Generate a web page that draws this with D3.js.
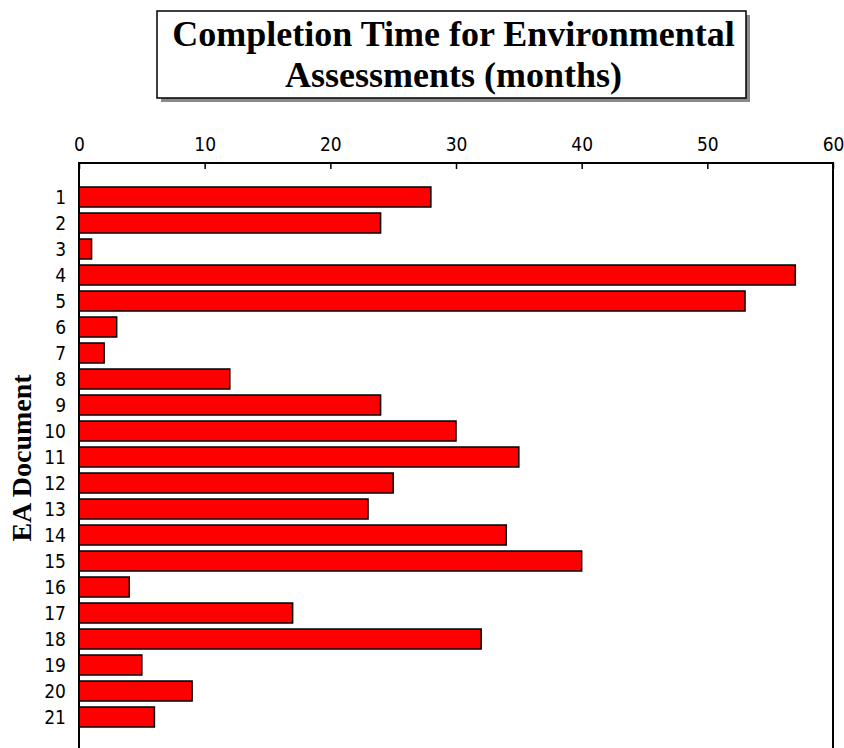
<!DOCTYPE html>
<html>
<head>
<meta charset="utf-8">
<script src="https://cdn.jsdelivr.net/npm/d3@7"></script>
<style>
  html, body { margin: 0; padding: 0; background: #fff; }
  svg { display: block; }
</style>
</head>
<body>
<svg id="chart" width="844" height="748"></svg>
<script>
// EA document numbers and completion times in months
const documents = ["1","2","3","4","5","6","7","8","9","10","11","12","13","14","15","16","17","18","19","20","21"];
const months = [28, 24, 1, 57, 53, 3, 2, 12, 24, 30, 35, 25, 23, 34, 40, 4, 17, 32, 5, 9, 6];
const xTicks = [0, 10, 20, 30, 40, 50, 60];
const titleLines = ["Completion Time for Environmental", "Assessments (months)"];
const yTitle = "EA Document";

const svg = d3.select("#chart");
const plot = { left: 79, right: 833, top: 163, bottom: 760 };
const tickFont = "'Liberation Sans Narrow', 'Arial Narrow', 'DejaVu Sans Condensed', sans-serif";

const x = d3.scaleLinear().domain([0, 60]).range([plot.left, plot.right]);
const y = d3.scaleBand()
  .domain(documents)
  .range([184, 730])
  .paddingInner(6 / 26)
  .paddingOuter(3 / 26);

// Title box with drop shadow
const box = { x: 157, y: 11, w: 589, h: 87 };
svg.append("rect")
  .attr("x", box.x + 4).attr("y", box.y + 4)
  .attr("width", box.w).attr("height", box.h)
  .attr("fill", "#8a8a8a");
svg.append("rect")
  .attr("x", box.x).attr("y", box.y)
  .attr("width", box.w).attr("height", box.h)
  .attr("fill", "#fff").attr("stroke", "#000").attr("stroke-width", 1.5);
svg.append("g").selectAll("text")
  .data(titleLines)
  .join("text")
  .attr("x", box.x + box.w / 2 + 2)
  .attr("y", (d, i) => 46 + i * 41)
  .attr("text-anchor", "middle")
  .attr("font-family", "'Liberation Serif', 'Times New Roman', serif")
  .attr("font-weight", "bold")
  .attr("font-size", 36)
  .attr("fill", "#000")
  .text(d => d);

// Bars
svg.append("g").selectAll("rect")
  .data(months)
  .join("rect")
  .attr("x", x(0))
  .attr("y", (d, i) => y(documents[i]))
  .attr("width", d => x(d) - x(0))
  .attr("height", y.bandwidth())
  .attr("fill", "#ff0000")
  .attr("stroke", "#000")
  .attr("stroke-width", 1.5);

// Top axis with inward ticks
const xAxis = d3.axisTop(x).tickValues(xTicks).tickSize(0).tickPadding(12);
const gx = svg.append("g")
  .attr("transform", `translate(0,${plot.top})`)
  .call(xAxis);
gx.select(".domain").remove();
gx.selectAll(".tick text")
  .attr("font-family", tickFont)
  .attr("font-size", 19)
  .attr("fill", "#000");
gx.selectAll(".tick").append("line")
  .attr("y1", 0).attr("y2", 6)
  .attr("stroke", "#000").attr("stroke-width", 1.5);

// Left axis labels
const yAxis = d3.axisLeft(y).tickSize(0).tickPadding(13);
const gy = svg.append("g")
  .attr("transform", `translate(${plot.left},0)`)
  .call(yAxis);
gy.select(".domain").remove();
gy.selectAll(".tick text")
  .attr("font-family", tickFont)
  .attr("font-size", 19)
  .attr("dy", "0.38em")
  .attr("fill", "#000");

// Plot frame: top, left and right edges
svg.append("path")
  .attr("d", `M${plot.left},${plot.bottom}V${plot.top}H${plot.right}V${plot.bottom}`)
  .attr("fill", "none")
  .attr("stroke", "#000")
  .attr("stroke-width", 2);

// Vertical axis title
svg.append("text")
  .attr("transform", `translate(31,458) rotate(-90)`)
  .attr("text-anchor", "middle")
  .attr("font-family", "'Liberation Serif', 'Times New Roman', serif")
  .attr("font-weight", "bold")
  .attr("font-size", 28)
  .attr("fill", "#000")
  .text(yTitle);
</script>
</body>
</html>
